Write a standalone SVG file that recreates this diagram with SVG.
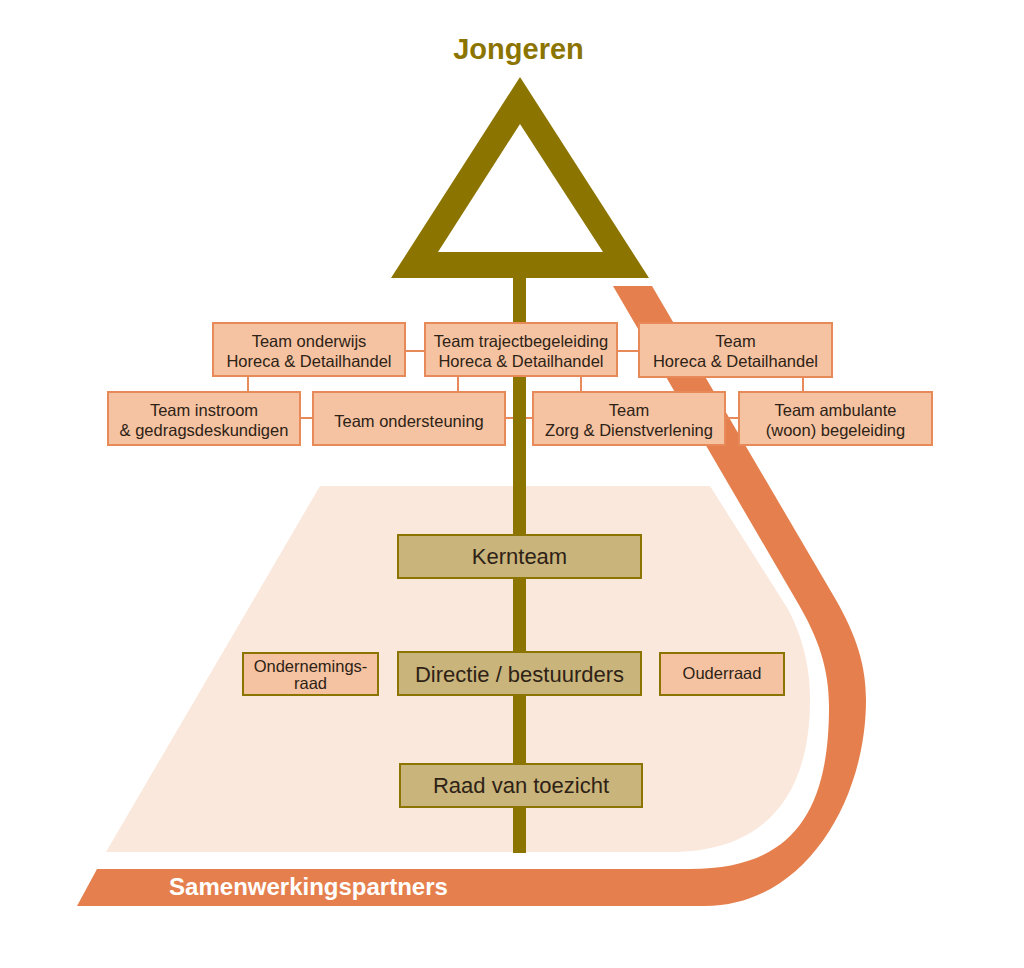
<svg xmlns="http://www.w3.org/2000/svg" width="1024" height="968" viewBox="0 0 1024 968">
<style>
.team rect{fill:#f5c3a1;stroke:#e8895a;stroke-width:2}
.core rect{fill:#c9b47b;stroke:#8c7400;stroke-width:2}
.council rect{fill:#f5c3a1;stroke:#8c7400;stroke-width:2}
text{font-family:"Liberation Sans",Arial,sans-serif;text-anchor:middle;fill:#2e2216}
.team text{font-size:16.5px}
.council text{font-size:16.5px}
.core text{font-size:22px}
.conn line{stroke:#e8895a;stroke-width:2}
</style>
<rect width="1024" height="968" fill="#ffffff"/>
<!-- background field -->
<path id="field" d="M320,486 L710,486 L786,606 C800,630 810,662 810,700 C810,790 770,852 670,852 L106,852 Z" fill="#fbe8dc"/>
<!-- partners band -->
<g id="partners">
<path d="M613,286 L652,286 L836,600 C856,635 866,665 866,700 C866,800 805,906 705,906 L77,906 L97,869 L690,869 C790,869 829,815 829,707 C829,668 818,638 799,605 Z" fill="#e5804e"/>
<text x="308.5" y="895" style="font-size:24px;font-weight:bold;fill:#ffffff">Samenwerkingspartners</text>
</g>
<!-- stem and triangle -->
<g id="jongeren">
<rect x="513" y="270" width="13" height="583" fill="#8c7400"/>
<path d="M520,77 L649,278 L391,278 Z M520,124 L438,252 L603,252 Z" fill="#8c7400" fill-rule="evenodd"/>
<text x="518.5" y="59" style="font-size:29px;font-weight:bold;fill:#8c7400">Jongeren</text>
</g>
<!-- connectors -->
<g class="conn" id="connectors">
<line x1="405" y1="351" x2="425" y2="351"/>
<line x1="617" y1="351" x2="639" y2="351"/>
<line x1="248" y1="376" x2="248" y2="392"/>
<line x1="458" y1="376" x2="458" y2="392"/>
<line x1="581" y1="376" x2="581" y2="392"/>
<line x1="803" y1="377" x2="803" y2="392"/>
<line x1="300" y1="418" x2="313" y2="418"/>
<line x1="505" y1="418" x2="513" y2="418"/>
<line x1="526" y1="418" x2="533" y2="418"/>
<line x1="725" y1="418" x2="739" y2="418"/>
</g>
<!-- team nodes -->
<g class="team" id="team-onderwijs"><rect x="213" y="323" width="192" height="53"/><text x="309" y="347">Team onderwijs</text><text x="309" y="367">Horeca &amp; Detailhandel</text></g>
<g class="team" id="team-trajectbegeleiding"><rect x="425" y="323" width="192" height="53"/><text x="521" y="347">Team trajectbegeleiding</text><text x="521" y="367">Horeca &amp; Detailhandel</text></g>
<g class="team" id="team-horeca"><rect x="639" y="323" width="193" height="54"/><text x="735.5" y="347">Team</text><text x="735.5" y="367">Horeca &amp; Detailhandel</text></g>
<g class="team" id="team-instroom"><rect x="108" y="392" width="192" height="53"/><text x="204" y="416">Team instroom</text><text x="204" y="436">&amp; gedragsdeskundigen</text></g>
<g class="team" id="team-ondersteuning"><rect x="313" y="392" width="192" height="53"/><text x="409" y="427">Team ondersteuning</text></g>
<g class="team" id="team-zorg"><rect x="533" y="392" width="192" height="53"/><text x="629" y="416">Team</text><text x="629" y="436">Zorg &amp; Dienstverlening</text></g>
<g class="team" id="team-ambulante"><rect x="739" y="392" width="193" height="53"/><text x="835.5" y="416">Team ambulante</text><text x="835.5" y="436">(woon) begeleiding</text></g>
<!-- core nodes -->
<g class="core" id="kernteam"><rect x="398" y="535" width="243" height="43"/><text x="519.5" y="564">Kernteam</text></g>
<g class="core" id="directie"><rect x="398" y="652" width="243" height="43"/><text x="519.5" y="682">Directie / bestuurders</text></g>
<g class="core" id="raad"><rect x="400" y="764" width="242" height="43"/><text x="521" y="793">Raad van toezicht</text></g>
<g class="council" id="ondernemingsraad"><rect x="243" y="653" width="135" height="42"/><text x="310.5" y="672">Ondernemings-</text><text x="310.5" y="689">raad</text></g>
<g class="council" id="ouderraad"><rect x="660" y="653" width="124" height="42"/><text x="722" y="679">Ouderraad</text></g>
</svg>
